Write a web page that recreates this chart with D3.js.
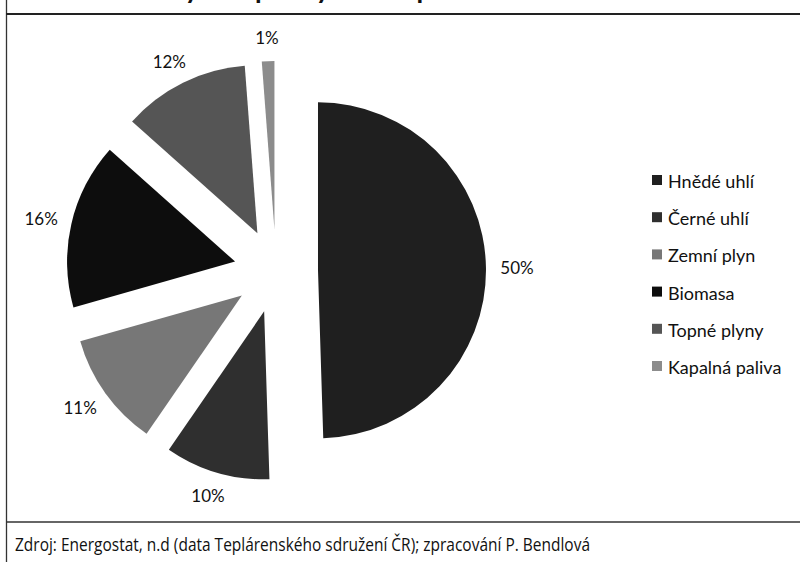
<!DOCTYPE html>
<html>
<head>
<meta charset="utf-8">
<script src="https://cdn.jsdelivr.net/npm/d3@7"></script>
<style>
  body { margin: 0; background: #fff; }
  svg { display: block; }
  text { font-family: Lato, "Open Sans", sans-serif; fill: #111; }
</style>
</head>
<body>
<svg id="chart" width="800" height="562"></svg>
<script>
// fuel mix shares (%), clockwise from 12 o'clock
const fuels = ["Hnědé uhlí", "Černé uhlí", "Zemní plyn", "Biomasa", "Topné plyny", "Kapalná paliva"];
const shares = [49.5, 10.1, 11.0, 16.0, 12.2, 1.2];
const shareLabels = ["50%", "10%", "11%", "16%", "12%", "1%"];
const shades = ["#1f1f1f", "#2f2f2f", "#777777", "#0d0d0d", "#555555", "#8c8c8c"];

const titleText = "Palivový mix pro výrobu tepla";
const sourceText = "Zdroj: Energostat, n.d (data Teplárenského sdružení ČR); zpracování P. Bendlová";

const svg = d3.select("#chart");

// frame: the title row is cut off at the top, only its descenders peek in
svg.append("text")
  .attr("x", 98)
  .attr("y", -1)
  .style("font-size", "27px")
  .style("font-weight", "bold")
  .text(titleText);

svg.append("line").attr("x1", 6.5).attr("x2", 6.5).attr("y1", 0).attr("y2", 562)
  .attr("stroke", "#333").attr("stroke-width", 1.3);
svg.append("line").attr("x1", 6).attr("x2", 800).attr("y1", 14).attr("y2", 14)
  .attr("stroke", "#222").attr("stroke-width", 1.8);
svg.append("line").attr("x1", 6).attr("x2", 800).attr("y1", 522).attr("y2", 522)
  .attr("stroke", "#333").attr("stroke-width", 1.3);

// pie
const cx = 276, cy = 271;
const radius = 168;
const explode = 42;     // every slice pulled out by the same amount (~25%)
const labelRx = 241, labelRy = 234;  // labels sit on a slightly squashed ring

const data = fuels.map((f, i) => ({ fuel: f, value: shares[i], label: shareLabels[i], color: shades[i] }));

const pie = d3.pie().sort(null).value((d) => d.value).startAngle(0).endAngle(2 * Math.PI);
const arc = d3.arc().innerRadius(0).outerRadius(radius);
const arcs = pie(data);

const mid = (a) => (a.startAngle + a.endAngle) / 2;

const g = svg.append("g").attr("transform", `translate(${cx},${cy})`);

g.selectAll("path.slice")
  .data(arcs)
  .join("path")
  .attr("class", "slice")
  .attr("d", arc)
  .attr("fill", (a) => a.data.color)
  .attr("transform", (a) => {
    const m = mid(a);
    return `translate(${explode * Math.sin(m)},${-explode * Math.cos(m)})`;
  });

g.selectAll("text.pct")
  .data(arcs)
  .join("text")
  .attr("class", "pct")
  .attr("x", (a) => labelRx * Math.sin(mid(a)))
  .attr("y", (a) => -labelRy * Math.cos(mid(a)))
  .attr("text-anchor", "middle")
  .attr("dominant-baseline", "central")
  .style("font-size", "17px")
  .text((a) => a.data.label);

// legend
const legendY = d3.scaleLinear().domain([0, fuels.length - 1]).range([180, 366]);

const legend = svg.append("g").selectAll("g")
  .data(data)
  .join("g")
  .attr("transform", (d, i) => `translate(652,${legendY(i)})`);

legend.append("rect")
  .attr("x", 0).attr("y", -5)
  .attr("width", 10).attr("height", 10)
  .attr("fill", (d) => d.color);

legend.append("text")
  .attr("x", 16)
  .attr("y", 1)
  .attr("dominant-baseline", "central")
  .style("font-size", "18px")
  .text((d) => d.fuel);

// source line
svg.append("text")
  .attr("x", 15)
  .attr("y", 551)
  .attr("textLength", 575)
  .attr("lengthAdjust", "spacingAndGlyphs")
  .style("font-family", "'Open Sans', sans-serif")
  .style("font-size", "18px")
  .text(sourceText);
</script>
</body>
</html>
